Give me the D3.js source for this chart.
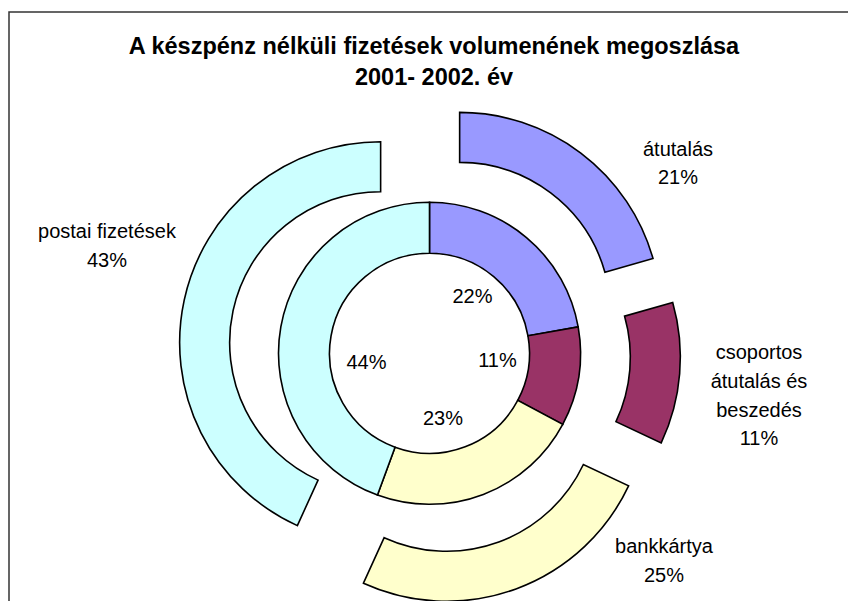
<!DOCTYPE html>
<html>
<head>
<meta charset="utf-8">
<script src="https://cdn.jsdelivr.net/npm/d3@7"></script>
<style>
  html, body { margin: 0; padding: 0; background: #fff; }
  svg { display: block; }
  text { font-family: "Liberation Sans", Arial, sans-serif; fill: #000; }
</style>
</head>
<body>
<svg id="chart" width="848" height="601"></svg>
<script>
// ---- data ----
const categories = ["átutalás", "csoportos átutalás és beszedés", "bankkártya", "postai fizetések"];
const categoryLines = [["átutalás"], ["csoportos", "átutalás és", "beszedés"], ["bankkártya"], ["postai fizetések"]];
const values2001 = [22.2, 10.6, 22.8, 44.4];   // inner ring
const values2002 = [20.6, 11.4, 24.8, 43.2];   // outer ring (exploded)
const colors = ["#9999FF", "#993366", "#FFFFCC", "#CCFFFF"];
const titleLines = ["A készpénz nélküli fizetések volumenének megoszlása", "2001- 2002. év"];
// label anchor positions (text placement)
const innerLabelPos = [[472.5, 303], [497.5, 367], [443, 424.5], [366.5, 368.5]];
const outerLabelPos = [[678, 155.5], [759, 359], [664, 553], [107, 238]];

// ---- layout ----
const svg = d3.select("#chart");
const cx = 429.5, cy = 353.3;
const rHole = 100, rMid = 151, rOut = 201, explode = 50;
const lineH = 28.8;

// frame
svg.append("rect")
  .attr("x", 9).attr("y", 12).attr("width", 900).attr("height", 700)
  .attr("fill", "none").attr("stroke", "#333").attr("stroke-width", 1.5);

// title
svg.selectAll("text.title").data(titleLines).join("text")
  .attr("class", "title")
  .attr("x", 434).attr("y", (d, i) => 54 + i * 30.5)
  .attr("text-anchor", "middle")
  .style("font-weight", "bold").style("font-size", "23.5px")
  .text(d => d);

const pie = d3.pie().sort(null).value(d => d);
const g = svg.append("g").attr("transform", `translate(${cx},${cy})`);

// inner ring (2001)
const arcIn = d3.arc().innerRadius(rHole).outerRadius(rMid);
const inner = pie(values2001);
g.selectAll("path.in").data(inner).join("path")
  .attr("class", "in")
  .attr("d", arcIn)
  .attr("fill", (d, i) => colors[i])
  .attr("stroke", "#000").attr("stroke-width", 1.6).attr("stroke-linejoin", "miter");

// outer ring (2002), exploded
const arcOut = d3.arc().innerRadius(rMid).outerRadius(rOut);
const outer = pie(values2002);
g.selectAll("path.out").data(outer).join("path")
  .attr("class", "out")
  .attr("d", arcOut)
  .attr("transform", d => {
    const a = (d.startAngle + d.endAngle) / 2;
    return `translate(${explode * Math.sin(a)},${-explode * Math.cos(a)})`;
  })
  .attr("fill", (d, i) => colors[i])
  .attr("stroke", "#000").attr("stroke-width", 1.6).attr("stroke-linejoin", "miter");

const pct = v => Math.round(v) + "%";
const total2001 = d3.sum(values2001), total2002 = d3.sum(values2002);

// inner labels
svg.selectAll("text.inlab").data(values2001).join("text")
  .attr("class", "inlab")
  .attr("x", (d, i) => innerLabelPos[i][0])
  .attr("y", (d, i) => innerLabelPos[i][1])
  .attr("text-anchor", "middle")
  .style("font-size", "20px")
  .text(d => pct(d / total2001 * 100));

// outer labels
values2002.forEach((v, i) => {
  const lines = categoryLines[i].concat([pct(v / total2002 * 100)]);
  const t = svg.append("text")
    .attr("text-anchor", "middle")
    .style("font-size", "20px");
  lines.forEach((ln, j) => {
    t.append("tspan")
      .attr("x", outerLabelPos[i][0])
      .attr("y", outerLabelPos[i][1] + j * lineH)
      .text(ln);
  });
});
</script>
</body>
</html>
